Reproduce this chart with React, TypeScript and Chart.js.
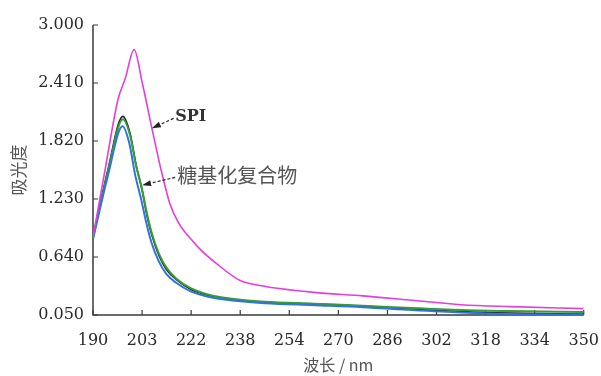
import React, { useEffect, useRef } from "react";
import { Chart, registerables } from "chart.js";

Chart.register(...registerables);

// ---- data ----
const xTickLabels = [190, 203, 222, 238, 254, 270, 286, 302, 318, 334, 350];
const yTickValues = [0.05, 0.64, 1.23, 1.82, 2.41, 3.0];

const spiNm = [190, 193.3, 196.6, 198.5, 200.9, 203, 206.8, 210.6, 213.8, 217.3, 222, 225.2, 230, 238, 244.4, 262, 278, 294, 310, 326, 350];
const spiAbs = [0.84, 1.55, 2.24, 2.45, 2.75, 2.42, 1.95, 1.5, 1.18, 0.98, 0.82, 0.71, 0.58, 0.4, 0.35, 0.28, 0.245, 0.2, 0.155, 0.135, 0.115];

const blackNm = [190, 193.9, 197.9, 199.8, 201.4, 203, 204.9, 206.8, 209.6, 212.5, 216.3, 222, 228.4, 238, 246, 262, 278, 294, 310, 326, 350];
const blackAbs = [0.84, 1.52, 2.07, 1.9, 1.58, 1.32, 1.06, 0.86, 0.65, 0.51, 0.41, 0.31, 0.245, 0.2, 0.18, 0.16, 0.14, 0.11, 0.085, 0.07, 0.06];

const greenNm = [190, 193.9, 197.9, 199.8, 201.4, 203, 204.9, 206.8, 209.6, 212.5, 216.3, 222, 228.4, 238, 246, 262, 278, 294, 310, 326, 350];
const greenAbs = [0.84, 1.5, 2.04, 1.88, 1.57, 1.33, 1.08, 0.88, 0.67, 0.53, 0.42, 0.32, 0.25, 0.205, 0.185, 0.165, 0.145, 0.12, 0.1, 0.09, 0.08];

const blueNm = [190, 193.9, 197.8, 199.6, 201.2, 202.8, 204.7, 206.6, 209.4, 212.3, 216.1, 221.8, 228.2, 238, 246, 262, 278, 294, 310, 326, 350];
const blueAbs = [0.82, 1.46, 1.97, 1.8, 1.47, 1.22, 0.98, 0.79, 0.6, 0.47, 0.38, 0.29, 0.23, 0.19, 0.17, 0.15, 0.13, 0.1, 0.075, 0.06, 0.055];

const xTitle = "波长 / nm";
const yTitle = "吸光度";
const spiLabel = "SPI";
const complexLabel = "糖基化复合物";

// wavelength -> position on the evenly spaced tick axis
function nmToPos(nm: number): number {
  for (let i = 0; i < xTickLabels.length - 1; i++) {
    const a = xTickLabels[i];
    const b = xTickLabels[i + 1];
    if (nm <= b) return i + (nm - a) / (b - a);
  }
  return xTickLabels.length - 1;
}

function toPoints(nm: number[], vals: number[]) {
  return nm.map((w, i) => ({ x: nmToPos(w), y: vals[i] }));
}

const SERIF = "'DejaVu Serif', 'Liberation Serif', serif";
const CJK = "'Noto Sans CJK SC', sans-serif";
const AXIS_COLOR = "#3a3a3a";

const axesPlugin = {
  id: "customAxes",
  beforeDatasetsDraw(chart: any) {
    const { ctx, chartArea, scales } = chart;
    const xs = scales.x;
    const ys = scales.y;
    ctx.save();
    ctx.strokeStyle = AXIS_COLOR;
    ctx.lineWidth = 1.5;
    ctx.beginPath();
    ctx.moveTo(chartArea.left, chartArea.top);
    ctx.lineTo(chartArea.left, chartArea.bottom);
    ctx.lineTo(chartArea.right, chartArea.bottom);
    ctx.stroke();
    ctx.lineWidth = 1.2;
    ctx.beginPath();
    xTickLabels.forEach((_, i) => {
      const px = xs.getPixelForValue(i);
      ctx.moveTo(px, chartArea.bottom);
      ctx.lineTo(px, chartArea.bottom - 5);
    });
    yTickValues.forEach((v) => {
      const py = ys.getPixelForValue(v);
      ctx.moveTo(chartArea.left, py);
      ctx.lineTo(chartArea.left + 5, py);
    });
    ctx.stroke();
    ctx.restore();
  },
};

function drawArrow(ctx: any, x1: number, y1: number, x2: number, y2: number) {
  const ang = Math.atan2(y2 - y1, x2 - x1);
  const headLen = 9;
  const bx = x2 - headLen * Math.cos(ang);
  const by = y2 - headLen * Math.sin(ang);
  ctx.save();
  ctx.strokeStyle = "#222";
  ctx.fillStyle = "#222";
  ctx.lineWidth = 1.2;
  ctx.setLineDash([3, 2]);
  ctx.beginPath();
  ctx.moveTo(x1, y1);
  ctx.lineTo(bx, by);
  ctx.stroke();
  ctx.setLineDash([]);
  ctx.beginPath();
  ctx.moveTo(x2, y2);
  ctx.lineTo(bx + 3 * Math.sin(ang), by - 3 * Math.cos(ang));
  ctx.lineTo(bx - 3 * Math.sin(ang), by + 3 * Math.cos(ang));
  ctx.closePath();
  ctx.fill();
  ctx.restore();
}

const annotationPlugin = {
  id: "annotations",
  afterDatasetsDraw(chart: any) {
    const { ctx, scales } = chart;
    const px = (nm: number) => scales.x.getPixelForValue(nmToPos(nm));
    const py = (v: number) => scales.y.getPixelForValue(v);
    ctx.save();
    ctx.textBaseline = "middle";
    ctx.textAlign = "left";
    ctx.fillStyle = "#333";
    ctx.font = `bold 16px ${SERIF}`;
    ctx.fillText(spiLabel, px(215.8), py(2.07));
    drawArrow(ctx, px(215.2), py(2.05), px(206.8), py(1.95));
    ctx.fillStyle = "#555";
    ctx.font = `20px ${CJK}`;
    ctx.fillText(complexLabel, px(216.6), py(1.47));
    drawArrow(ctx, px(215.8), py(1.45), px(203), py(1.37));
    ctx.restore();
  },
};

export default function App() {
  const canvasRef = useRef<HTMLCanvasElement | null>(null);

  useEffect(() => {
    if (!canvasRef.current) return;
    const chart = new Chart(canvasRef.current, {
      type: "line",
      data: {
        datasets: [
          {
            label: "SPI",
            data: toPoints(spiNm, spiAbs),
            borderColor: "#e23fdc",
            borderWidth: 1.6,
            pointRadius: 0,
            cubicInterpolationMode: "monotone",
          },
          {
            label: "blue",
            data: toPoints(blueNm, blueAbs),
            borderColor: "#2f74e0",
            borderWidth: 2,
            pointRadius: 0,
            cubicInterpolationMode: "monotone",
          },
          {
            label: "green",
            data: toPoints(greenNm, greenAbs),
            borderColor: "#3a9c34",
            borderWidth: 2,
            pointRadius: 0,
            cubicInterpolationMode: "monotone",
          },
          {
            label: "black",
            data: toPoints(blackNm, blackAbs),
            borderColor: "#1e1e28",
            borderWidth: 1.6,
            pointRadius: 0,
            cubicInterpolationMode: "monotone",
          },
        ],
      },
      options: {
        responsive: false,
        animation: false,
        devicePixelRatio: 1,
        layout: { padding: { top: 25, right: 3, bottom: 0, left: 0 } },
        plugins: {
          legend: { display: false },
          tooltip: { enabled: false },
        },
        elements: { line: { fill: false } },
        scales: {
          x: {
            type: "linear",
            min: 0,
            max: xTickLabels.length - 1,
            afterBuildTicks: (s: any) => {
              s.ticks = xTickLabels.map((_, i) => ({ value: i }));
            },
            afterFit: (s: any) => {
              s.height = 61;
            },
            grid: { display: false, drawTicks: true, tickLength: 14 },
            border: { display: false },
            ticks: {
              autoSkip: false,
              maxRotation: 0,
              padding: 2,
              color: "#2a2a2a",
              font: { family: SERIF, size: 16 },
              callback: (v: any) => String(xTickLabels[Math.round(Number(v))]),
            },
            title: {
              display: true,
              text: xTitle,
              color: "#555",
              font: { family: CJK, size: 16 },
              padding: { top: 0, bottom: 1 },
            },
          },
          y: {
            type: "linear",
            min: yTickValues[0],
            max: yTickValues[yTickValues.length - 1],
            afterBuildTicks: (s: any) => {
              s.ticks = yTickValues.map((v) => ({ value: v }));
            },
            afterFit: (s: any) => {
              s.width = 93;
            },
            grid: { display: false, drawTicks: false },
            border: { display: false },
            ticks: {
              padding: 9,
              color: "#2a2a2a",
              font: { family: SERIF, size: 16 },
              callback: (v: any) => Number(v).toFixed(3),
            },
            title: {
              display: true,
              text: yTitle,
              color: "#555",
              font: { family: CJK, size: 17 },
              padding: { top: 8, bottom: 0 },
            },
          },
        },
      },
      plugins: [axesPlugin, annotationPlugin],
    });
    return () => chart.destroy();
  }, []);

  return (
    <div style={{ position: "fixed", left: 0, top: 0, width: 601, height: 376, background: "#fff" }}>
      <canvas ref={canvasRef} width={601} height={376} />
    </div>
  );
}
